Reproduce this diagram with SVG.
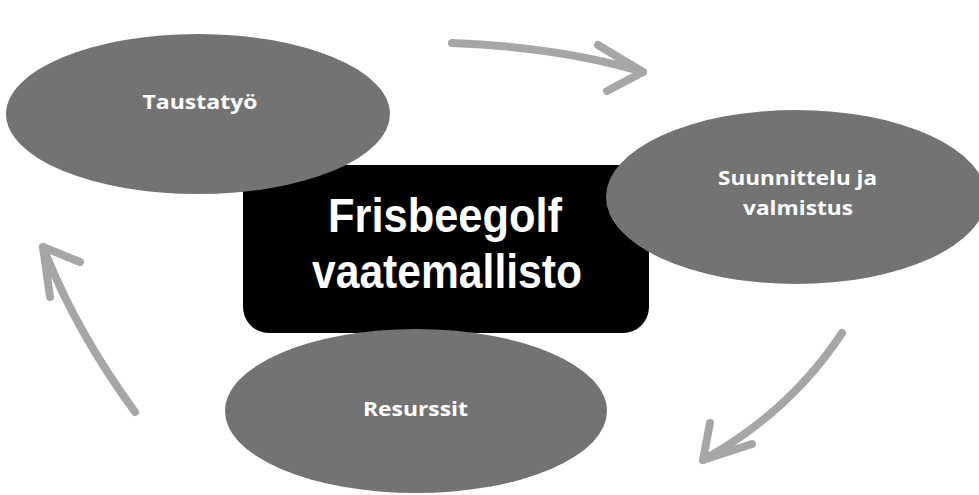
<svg xmlns="http://www.w3.org/2000/svg" width="979" height="495" viewBox="0 0 979 495">
<style>
.node{fill:#737373}
.lbl{font-family:"Open Sans","Noto Sans",sans-serif;font-weight:700;font-size:19.5px;fill:#ffffff;text-anchor:middle}
.title{font-family:"Liberation Sans","Arial",sans-serif;font-weight:700;font-size:48px;fill:#ffffff;text-anchor:middle}
.arr{fill:none;stroke:#a6a6a6;stroke-width:8;stroke-linecap:round;stroke-linejoin:round}
</style>
<rect width="979" height="495" fill="#ffffff"/>
<g id="center">
<rect x="243" y="165" width="406" height="168" rx="26" fill="#000000"/>
<text class="title" x="445" y="232" textLength="234" lengthAdjust="spacingAndGlyphs">Frisbeegolf</text>
<text class="title" x="447" y="288" textLength="270" lengthAdjust="spacingAndGlyphs">vaatemallisto</text>
</g>
<g id="taustatyo">
<ellipse class="node" cx="198" cy="114" rx="192" ry="80"/>
<text class="lbl" x="200" y="109" textLength="115" lengthAdjust="spacingAndGlyphs">Taustatyö</text>
</g>
<g id="suunnittelu">
<ellipse class="node" cx="796" cy="197" rx="190" ry="87"/>
<text class="lbl" x="797.5" y="185" textLength="159" lengthAdjust="spacingAndGlyphs">Suunnittelu ja</text>
<text class="lbl" x="798" y="215" textLength="110" lengthAdjust="spacingAndGlyphs">valmistus</text>
</g>
<g id="resurssit">
<ellipse class="node" cx="416" cy="411" rx="191" ry="82"/>
<text class="lbl" x="415.5" y="416" textLength="105" lengthAdjust="spacingAndGlyphs">Resurssit</text>
</g>
<g id="connectors">
<path class="arr" d="M452,43 Q560,47 643,72"/>
<path class="arr" d="M598,45 L643,72 L607,91"/>
<path class="arr" d="M842,333 Q790,412 703,460"/>
<path class="arr" d="M710,423 L703,460 L752,444"/>
<path class="arr" d="M135,412 Q75,330 43,247"/>
<path class="arr" d="M50,297 L43,247 L80,262"/>
</g>
</svg>
